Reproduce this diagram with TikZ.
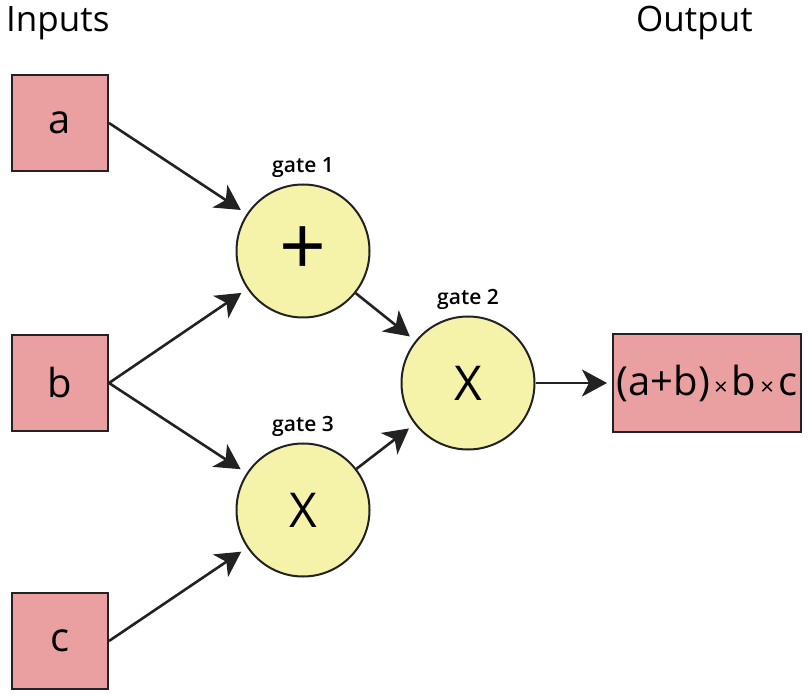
\documentclass[tikz,border=0pt]{standalone}
\usepackage{fontspec}
\setmainfont{Open Sans}[BoldFont={Open Sans Semibold}]
\usetikzlibrary{arrows.meta,positioning}

\definecolor{boxpink}{RGB}{234,160,160}
\definecolor{gateyellow}{RGB}{245,243,170}
\definecolor{edgegray}{RGB}{34,34,34}

\begin{document}
\begin{tikzpicture}[x=1pt, y=1pt,
    inbox/.style={rectangle, draw=edgegray, line width=2pt, fill=boxpink, minimum width=96pt, minimum height=96pt, inner sep=0pt, font=\fontsize{40}{40}\selectfont},
    gate/.style={circle, draw=edgegray, line width=2pt, fill=gateyellow, minimum size=133pt, inner sep=0pt, font=\fontsize{48}{48}\selectfont},
    gatelabel/.style={inner sep=0pt, font=\fontsize{21}{21}\selectfont\bfseries},
    title/.style={inner sep=0pt, anchor=base west, font=\fontsize{35}{35}\selectfont},
    arrow/.style={-{Stealth[length=25pt, width=27pt, inset=7pt]}, line width=2.6pt, draw=edgegray, shorten >=7pt}]

    \useasboundingbox (0,0) rectangle (810,699);

    % Inputs
    \node[inbox] (a) at (60,576) {a};
    \node[inbox] (b) at (60,316) {b};
    \node[inbox] (c) at (60,58) {c};

    % Gates
    \node[gate] (gate1) at (303,448) {\fontsize{82}{82}\selectfont +};
    \node[gate] (gate3) at (303,189) {X};
    \node[gate] (gate2) at (468,316) {X};

    % Output
    \node[inbox, minimum width=188pt, minimum height=97pt] (out) at (707,316)
        {(a+b){\fontsize{24}{24}\selectfont\,×\,}b{\fontsize{24}{24}\selectfont\,×\,}c};

    % Arrows
    \draw[arrow] (a.east) -- (gate1);
    \draw[arrow] (b.east) -- (gate1);
    \draw[arrow] (b.east) -- (gate3);
    \draw[arrow] (c.east) -- (gate3);
    \draw[arrow] (gate1) -- (gate2);
    \draw[arrow] (gate3) -- (gate2);
    \draw[arrow, shorten >=5pt] (gate2) -- (out);

    % Labels
    \node[gatelabel, above=6pt of gate1] {gate 1};
    \node[gatelabel, above=6pt of gate2] {gate 2};
    \node[gatelabel, above=6pt of gate3] {gate 3};
    \node[title] (inputs) at (6,667) {Inputs};
    \node[title] (output) at (636,667) {Output};

\end{tikzpicture}
\end{document}
